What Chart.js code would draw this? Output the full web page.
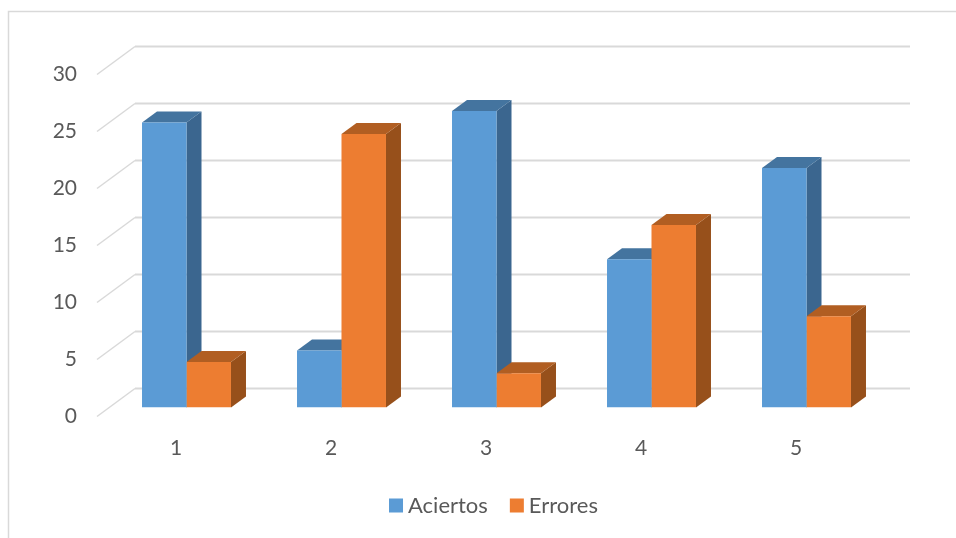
<!DOCTYPE html>
<html>
<head>
<meta charset="utf-8">
<script src="https://cdn.jsdelivr.net/npm/chart.js@4"></script>
<style>
html,body{margin:0;padding:0;background:#fff}
canvas{display:block}
</style>
</head>
<body>
<canvas id="chart" width="956" height="538"></canvas>
<script>
const categories=["1","2","3","4","5"]
const aciertos=[25,5,26,13,21]
const errores=[4,24,3,16,8]
const yMax=30
const yStep=5

const textColor="#595959"
const gridColor="#d9d9d9"
const blue={front:"#5b9bd5",top:"#44749f",side:"#3b668f"}
const orange={front:"#ed7d31",top:"#b15e22",side:"#97501b"}
const shades=[blue,orange]

// how far the bars and the walls go back, in pixels
const barDepth={x:15,y:-11}
const wallBack={x:26,y:-19}
const wallFront={x:-12,y:9}

function poly(ctx,pts,color){
ctx.fillStyle=color
ctx.beginPath()
pts.forEach((p,i)=>i?ctx.lineTo(p[0],p[1]):ctx.moveTo(p[0],p[1]))
ctx.closePath()
ctx.fill()
}

const frame3d={
id:"frame3d",
beforeDraw(chart){
const ctx=chart.ctx
ctx.save()
ctx.fillStyle="#fff"
ctx.fillRect(0,0,chart.width,chart.height)
// outer border, only top and left are inside the picture
ctx.strokeStyle=gridColor
ctx.lineWidth=1.5
ctx.beginPath()
ctx.moveTo(8.5,chart.height)
ctx.lineTo(8.5,11.5)
ctx.lineTo(chart.width,11.5)
ctx.stroke()
ctx.restore()
},
beforeDatasetsDraw(chart){
const ctx=chart.ctx
const area=chart.chartArea
const y=chart.scales.y
ctx.save()
// gridlines: diagonal on the side wall, straight on the back wall
y.ticks.forEach(t=>{
const py=y.getPixelForValue(t.value)
ctx.strokeStyle=gridColor
ctx.lineWidth=1.5
ctx.beginPath()
ctx.moveTo(area.left+wallFront.x,py+wallFront.y)
ctx.lineTo(area.left+wallBack.x,py+wallBack.y)
ctx.stroke()
ctx.lineWidth=2.2
ctx.beginPath()
ctx.moveTo(area.left+wallBack.x,py+wallBack.y)
ctx.lineTo(area.right+wallBack.x,py+wallBack.y)
ctx.stroke()
})
// side and top of every bar, the library paints the fronts on top
chart.data.datasets.forEach((ds,i)=>{
chart.getDatasetMeta(i).data.forEach(bar=>{
const p=bar.getProps(["x","y","base","width"],true)
const l=p.x-p.width/2
const r=p.x+p.width/2
const dx=barDepth.x
const dy=barDepth.y
poly(ctx,[[r,p.y],[r+dx,p.y+dy],[r+dx,p.base+dy],[r,p.base]],shades[i].side)
poly(ctx,[[l,p.y],[l+dx,p.y+dy],[r+dx,p.y+dy],[r,p.y]],shades[i].top)
})
})
ctx.restore()
}
}

new Chart(document.getElementById("chart"),{
type:"bar",
data:{
labels:categories,
datasets:[
{label:"Aciertos",data:aciertos,backgroundColor:blue.front,borderWidth:0},
{label:"Errores",data:errores,backgroundColor:orange.front,borderWidth:0}
]
},
plugins:[frame3d],
options:{
responsive:false,
animation:false,
devicePixelRatio:1,
layout:{padding:{top:65.5,right:72,bottom:11.5,left:0}},
categoryPercentage:0.574,
barPercentage:1,
scales:{
x:{
grid:{display:false,drawTicks:false},
border:{display:false},
afterFit(s){s.height=59},
ticks:{color:textColor,font:{family:"Lato",size:21},padding:28,labelOffset:-10.5,maxRotation:0}
},
y:{
min:0,
max:yMax,
grid:{display:false,drawTicks:false},
border:{display:false},
afterFit(s){s.width=109},
ticks:{color:textColor,font:{family:"Lato",size:21},stepSize:yStep,padding:32,labelOffset:9}
}
},
plugins:{
tooltip:{enabled:false},
legend:{
position:"bottom",
fullSize:false,
labels:{
color:textColor,
font:{family:"Lato",size:22},
padding:28,
// a thick outline makes the 14px swatch, so the text can sit closer than the box width allows
boxWidth:2,
boxHeight:2,
generateLabels(chart){
return Chart.defaults.plugins.legend.labels.generateLabels(chart).map(item=>{
item.strokeStyle=item.fillStyle
item.lineWidth=12
return item
})
}
}
}
}
}
})
</script>
</body>
</html>
